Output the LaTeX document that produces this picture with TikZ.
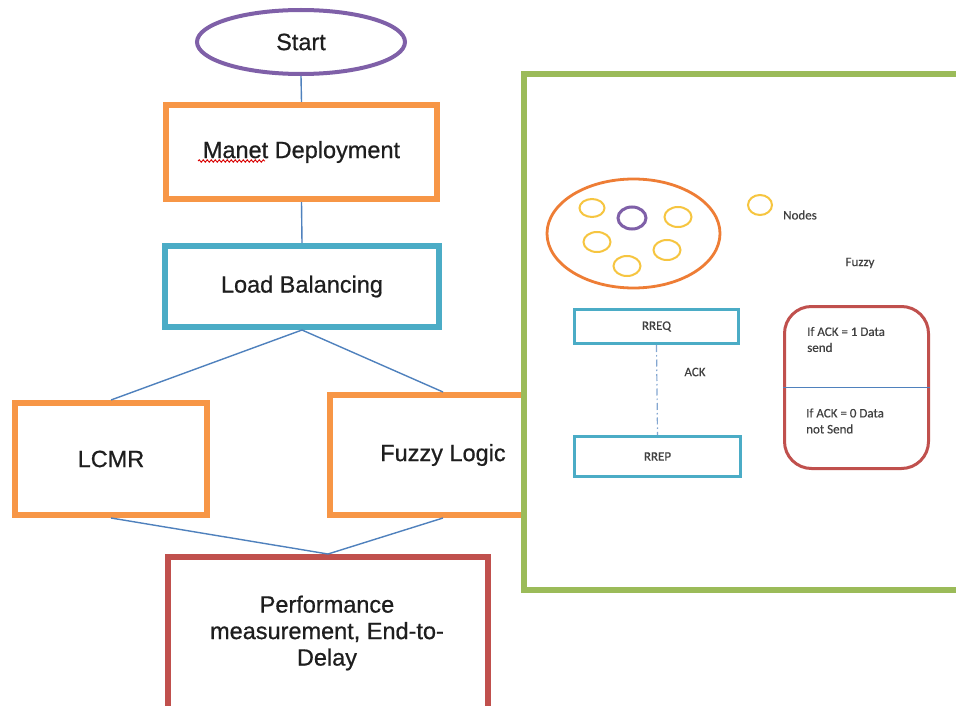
\documentclass[tikz,border=0pt]{standalone}
\usepackage{fontspec}
\setmainfont{Liberation Sans}
\newfontfamily\heavyfont[FakeBold=0.7]{Liberation Sans}
\newfontfamily\calfont[FakeBold=0.4]{Carlito}
\usetikzlibrary{shapes.geometric,decorations.pathmorphing}

\definecolor{ofPurple}{HTML}{7F60A8}
\definecolor{ofOrange}{HTML}{F79646}
\definecolor{ofCyan}{HTML}{4BACC6}
\definecolor{ofRed}{HTML}{C0504D}
\definecolor{ofGreen}{HTML}{9BBB59}
\definecolor{ofBlue}{HTML}{4F81BD}
\definecolor{ofYellow}{HTML}{F6C540}
\definecolor{ofDeepOrange}{HTML}{EE7D35}
\definecolor{txt}{HTML}{1E1E1E}

\tikzset{
  mainbox/.style={draw, rectangle, line width=6pt, fill=white, inner sep=0pt,
    text=txt, font=\heavyfont\fontsize{23.5}{27}\selectfont},
  link/.style={draw=ofBlue, line width=1.4pt},
  smalltxt/.style={inner sep=0pt, text=txt!85, font=\calfont\fontsize{13}{16}\selectfont},
  msgbox/.style={draw=ofCyan, rectangle, line width=3pt, fill=white, inner sep=0pt,
    text=txt!85, font=\calfont\fontsize{13}{16}\selectfont},
  peer/.style={draw=ofYellow, ellipse, line width=2pt, inner sep=0pt,
    minimum width=27pt, minimum height=20pt},
}

\begin{document}
\begin{tikzpicture}[x=1pt,y=-1pt]
\useasboundingbox (0,0) rectangle (956,706);
\clip (0,0) rectangle (956,706);
\fill[white] (0,0) rectangle (956,706);

% ---- flow chart ----
\node[mainbox, draw=ofPurple, ellipse, line width=4pt,
      minimum width=208pt, minimum height=64pt] (start) at (301,42) {Start};
\node[mainbox, draw=ofOrange, minimum width=271pt, minimum height=94pt]
      (manet) at (301.5,152) {Manet Deployment};
\node[mainbox, draw=ofCyan, minimum width=274pt, minimum height=81pt]
      (load) at (302,286.5) {Load Balancing};
\node[mainbox, draw=ofOrange, minimum width=192pt, minimum height=112pt]
      (lcmr) at (111,459) {LCMR};
\node[mainbox, draw=ofOrange, minimum width=226pt, minimum height=120pt]
      (fuzzy) at (443,455) {Fuzzy Logic};
\node[mainbox, draw=ofRed, minimum width=320pt, minimum height=180pt]
      (perf) at (328,647) {};
\node[inner sep=0pt, align=center, text=txt,
      font=\heavyfont\fontsize{23.5}{26.5}\selectfont] (perftxt) at (327,633)
      {Performance\\measurement, End-to-\\Delay};

% spell-check squiggle under "Manet"
\coordinate (sqa) at (198,161);
\coordinate (sqb) at (265,161);
\draw[red!85!black, line width=0.9pt,
      decorate, decoration={snake, amplitude=1.2pt, segment length=4pt}]
      (sqa) -- (sqb);

\draw[link] (start.south) -- (manet.north);
\draw[link] (manet.south) -- (load.north);
\draw[link] (load.south) -- (lcmr.north);
\draw[link] (load.south) -- (fuzzy.north);
\draw[link] (lcmr.south) -- (perf.north);
\draw[link] (fuzzy.south) -- (perf.north);

% ---- detail panel ----
\node[draw=ofGreen, fill=white, rectangle, line width=6pt, inner sep=0pt,
      minimum width=456pt, minimum height=515.5pt] (panel) at (752,332.25) {};

\node[draw=ofDeepOrange, ellipse, line width=2.8pt, inner sep=0pt,
      minimum width=173pt, minimum height=109pt] (cluster) at (633.5,233.5) {};
\node[peer, minimum width=25pt, minimum height=18pt] (p1) at (592,208) {};
\node[draw=ofPurple, ellipse, line width=3pt, inner sep=0pt,
      minimum width=28pt, minimum height=22pt] (src) at (632,218) {};
\node[peer] (p2) at (678,217) {};
\node[peer] (p3) at (597,242) {};
\node[peer] (p4) at (667,250) {};
\node[peer] (p5) at (627,266) {};

\node[peer, minimum width=24pt, minimum height=20pt] (legend) at (760,205) {};
\node[smalltxt] (legendtxt) at (800,215) {Nodes};
\node[smalltxt] (fuzzytxt) at (860,263) {Fuzzy};

\node[msgbox, minimum width=164pt, minimum height=34pt] (rreq) at (656.5,326.5) {RREQ};
\node[msgbox, minimum width=166pt, minimum height=40pt] (rrep) at (657.5,456.5) {RREP};
\draw[draw=ofBlue!70, line width=1.2pt, dash pattern=on 7pt off 3pt on 1.5pt off 3pt]
      (rreq.south) -- (rrep.north);
\node[smalltxt] (acktxt) at (695,372) {ACK};

\node[draw=ofRed, rectangle, rounded corners=27pt, line width=3pt, inner sep=0pt,
      minimum width=144pt, minimum height=162pt] (rule) at (856.5,387.5) {};
\draw[draw=ofBlue, line width=1.4pt] (rule.west) -- (rule.east);
\node[smalltxt, anchor=west, align=left] (rule1) at (807,339.5)
      {If ACK = 1 Data\\send};
\node[smalltxt, anchor=west, align=left] (rule0) at (806,421)
      {If ACK = 0 Data\\not Send};
\end{tikzpicture}
\end{document}
